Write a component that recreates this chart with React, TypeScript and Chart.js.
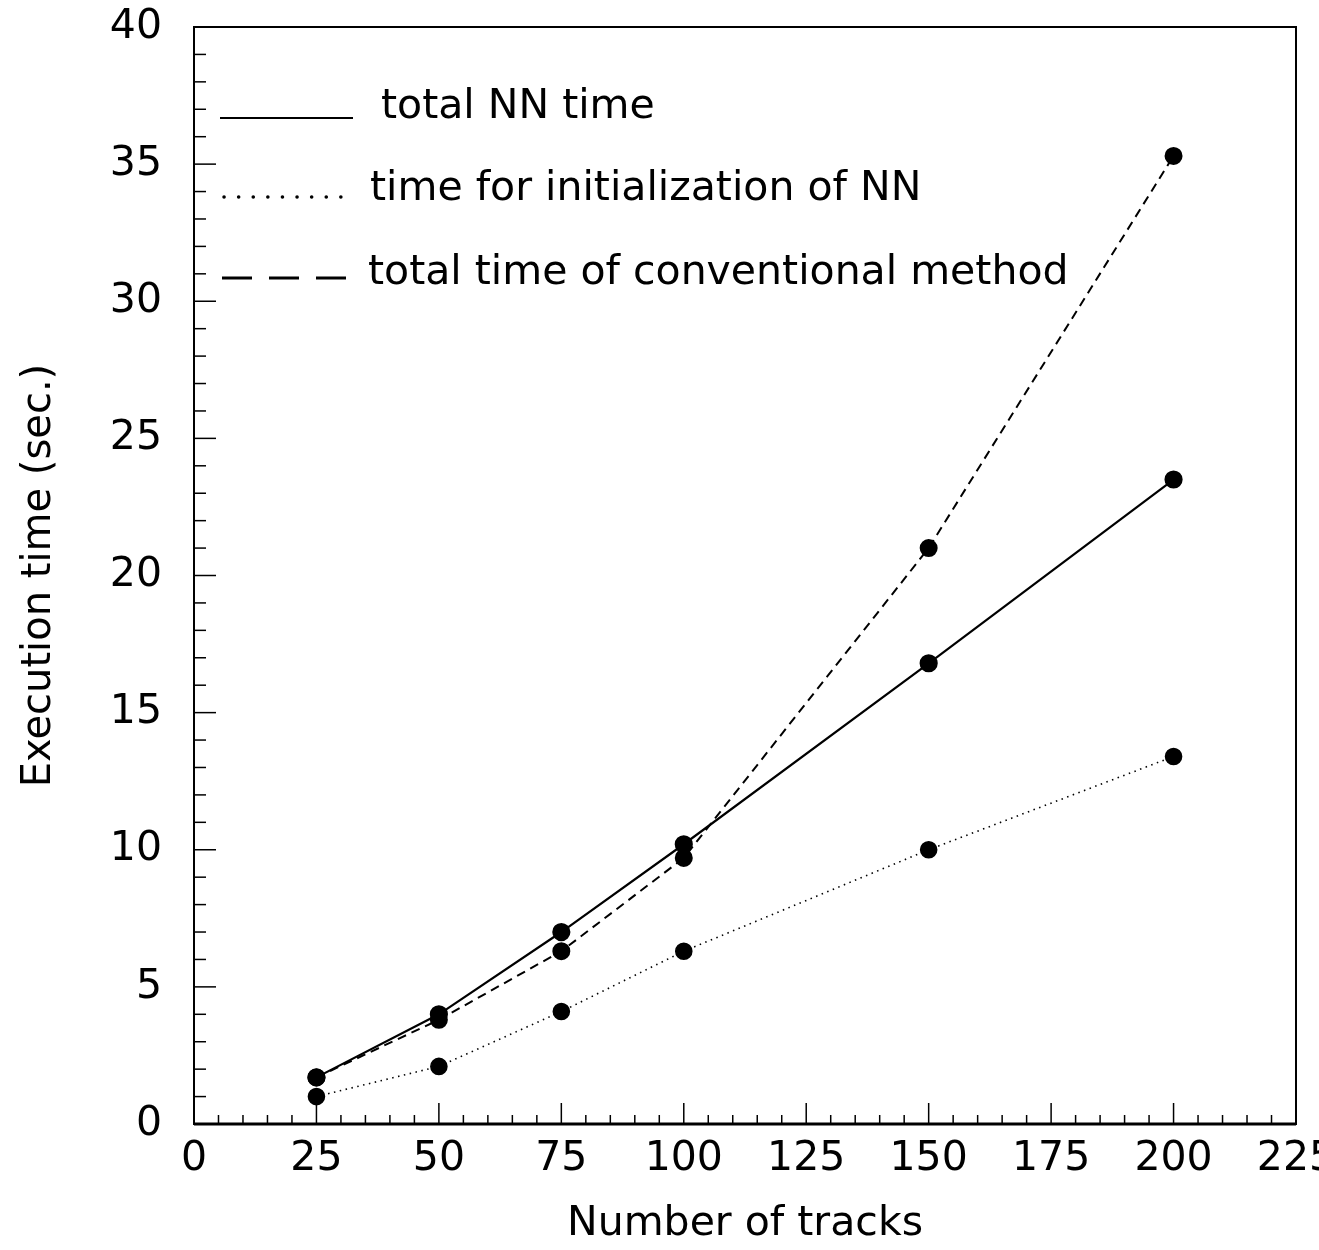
import React, { useEffect, useRef } from "react";
import { Chart, registerables } from "chart.js";

Chart.register(...registerables);

const tracks = [25, 50, 75, 100, 150, 200];
const totalNN = [1.7, 4.0, 7.0, 10.2, 16.8, 23.5];
const initNN = [1.0, 2.1, 4.1, 6.3, 10.0, 13.4];
const conventional = [1.7, 3.8, 6.3, 9.7, 21.0, 35.3];
const legendLabels = [
  "total NN time",
  "time for initialization of NN",
  "total time of conventional method",
];
const xTickLabels = ["0", "25", "50", "75", "100", "125", "150", "175", "200", "225"];
const yTickLabels = ["0", "5", "10", "15", "20", "25", "30", "35", "40"];

const FONT = "DejaVu Sans";

const framePlugin = {
  id: "frameTicks",
  afterDraw(chart: any) {
    const { ctx, chartArea } = chart;
    const xs = chart.scales.x;
    const ys = chart.scales.y;
    ctx.save();
    ctx.strokeStyle = "#000";
    // frame
    ctx.lineWidth = 2;
    ctx.strokeRect(chartArea.left, chartArea.top, chartArea.right - chartArea.left, chartArea.bottom - chartArea.top);
    ctx.lineWidth = 3;
    ctx.beginPath();
    ctx.moveTo(chartArea.left, chartArea.bottom);
    ctx.lineTo(chartArea.right, chartArea.bottom);
    ctx.stroke();
    // x ticks (inside)
    ctx.lineWidth = 1.5;
    for (let v = 0; v <= 225; v += 5) {
      const px = xs.getPixelForValue(v);
      const len = v % 25 === 0 ? 21 : 9;
      ctx.beginPath();
      ctx.moveTo(px, chartArea.bottom);
      ctx.lineTo(px, chartArea.bottom - len);
      ctx.stroke();
    }
    // y ticks (inside)
    for (let v = 0; v <= 40; v += 1) {
      const py = ys.getPixelForValue(v);
      const len = v % 5 === 0 ? 22 : 12;
      ctx.beginPath();
      ctx.moveTo(chartArea.left, py);
      ctx.lineTo(chartArea.left + len, py);
      ctx.stroke();
    }
    // legend
    ctx.fillStyle = "#000";
    ctx.font = `41px "${FONT}"`;
    ctx.textBaseline = "alphabetic";
    ctx.textAlign = "left";
    // row 1 solid
    ctx.lineWidth = 2;
    ctx.setLineDash([]);
    ctx.beginPath();
    ctx.moveTo(220, 118);
    ctx.lineTo(353, 118);
    ctx.stroke();
    ctx.fillText(legendLabels[0], 381, 118);
    // row 2 dotted
    ctx.lineWidth = 3.5;
    ctx.lineCap = "round";
    ctx.setLineDash([0.1, 14.5]);
    ctx.beginPath();
    ctx.moveTo(224, 197);
    ctx.lineTo(347, 197);
    ctx.stroke();
    ctx.lineCap = "butt";
    ctx.fillText(legendLabels[1], 370, 200);
    // row 3 dashed
    ctx.lineWidth = 3;
    ctx.setLineDash([30, 17]);
    ctx.beginPath();
    ctx.moveTo(222, 278);
    ctx.lineTo(346, 278);
    ctx.stroke();
    ctx.setLineDash([]);
    ctx.fillText(legendLabels[2], 368, 284);
    ctx.restore();
  },
};

export default function App() {
  const ref = useRef<HTMLCanvasElement | null>(null);
  useEffect(() => {
    if (!ref.current) return;
    const mk = (arr: number[]) => tracks.map((t, i) => ({ x: t, y: arr[i] }));
    const chart = new Chart(ref.current, {
      type: "line",
      data: {
        datasets: [
          {
            label: legendLabels[0],
            data: mk(totalNN),
            borderColor: "#000",
            backgroundColor: "#000",
            borderWidth: 2.2,
            pointRadius: 8,
            pointBackgroundColor: "#000",
            pointBorderColor: "#000",
            tension: 0,
          },
          {
            label: legendLabels[1],
            data: mk(initNN),
            borderColor: "#000",
            backgroundColor: "#000",
            borderWidth: 1.6,
            borderDash: [1.5, 4.5],
            pointRadius: 8,
            pointBackgroundColor: "#000",
            pointBorderColor: "#000",
            tension: 0,
          },
          {
            label: legendLabels[2],
            data: mk(conventional),
            borderColor: "#000",
            backgroundColor: "#000",
            borderWidth: 2,
            borderDash: [9, 6],
            pointRadius: 8,
            pointBackgroundColor: "#000",
            pointBorderColor: "#000",
            tension: 0,
          },
        ],
      },
      options: {
        animation: false,
        responsive: false,
        devicePixelRatio: 1,
        layout: { padding: { top: 27, right: 23, left: 0, bottom: 0 } },
        plugins: { legend: { display: false }, tooltip: { enabled: false } },
        scales: {
          x: {
            type: "linear",
            min: 0,
            max: 225,
            grid: { display: false, drawTicks: false },
            border: { display: false },
            ticks: {
              stepSize: 25,
              padding: 11,
              color: "#000",
              font: { family: FONT, size: 41 },
              maxRotation: 0,
              autoSkip: false,
              callback: (v: any) => {
                const i = Math.round(Number(v) / 25);
                return Number(v) % 25 === 0 ? xTickLabels[i] : "";
              },
            },
            title: {
              display: true,
              text: "Number of tracks",
              color: "#000",
              font: { family: FONT, size: 41 },
              padding: { top: 0, bottom: 1 },
            },
            afterFit: (s: any) => {
              s.height = 126;
              s.paddingLeft = 0;
              s.paddingRight = 0;
            },
          },
          y: {
            type: "linear",
            min: 0,
            max: 40,
            grid: { display: false, drawTicks: false },
            border: { display: false },
            ticks: {
              stepSize: 5,
              padding: 32,
              color: "#000",
              font: { family: FONT, size: 41 },
              autoSkip: false,
              callback: (v: any) => {
                const i = Math.round(Number(v) / 5);
                return yTickLabels[i];
              },
            },
            title: {
              display: true,
              text: "Execution time (sec.)",
              color: "#000",
              font: { family: FONT, size: 40 },
              padding: { top: 16, bottom: 0 },
            },
            afterFit: (s: any) => {
              s.width = 194;
              s.paddingTop = 0;
              s.paddingBottom = 0;
            },
          },
        },
      },
      plugins: [framePlugin],
    } as any);
    return () => chart.destroy();
  }, []);
  return (
    <div style={{ position: "absolute", left: 0, top: 0, width: 1319, height: 1250, background: "#fff" }}>
      <canvas ref={ref} width={1319} height={1250} />
    </div>
  );
}
